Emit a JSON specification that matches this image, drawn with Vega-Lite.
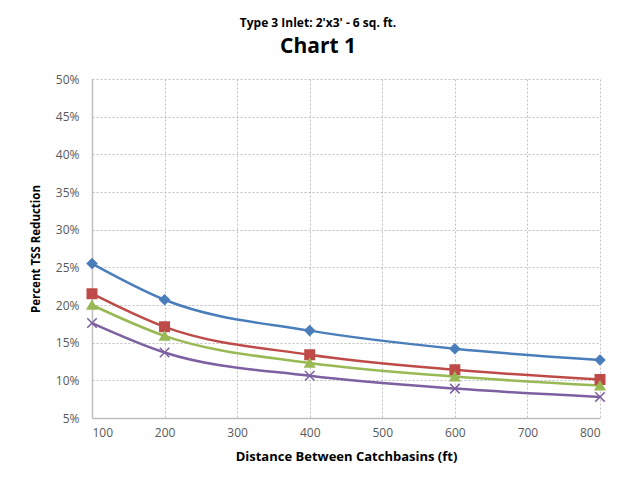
{
  "$schema": "https://vega.github.io/schema/vega-lite/v6.json",
  "width": 508,
  "height": 339,
  "autosize": {"type": "none"},
  "padding": {"left": 92, "top": 79, "right": 22, "bottom": 65},
  "background": "white",
  "config": {
    "font": "Open Sans",
    "view": {"stroke": null},
    "axis": {
      "labelFont": "Open Sans",
      "titleFont": "Open Sans",
      "labelColor": "#595959",
      "labelFontSize": 12,
      "titleFontSize": 12,
      "titleFontWeight": "bold",
      "titleColor": "#000000",
      "domainColor": "#BFBFBF",
      "domainWidth": 1.5,
      "ticks": false,
      "gridColor": "#BFBFBF",
      "gridDash": [2, 2],
      "gridWidth": 1
    }
  },
  "title": {
    "text": "Type 3 Inlet: 2'x3' - 6 sq. ft.",
    "subtitle": "Chart 1",
    "font": "Open Sans",
    "fontSize": 12,
    "fontWeight": "bold",
    "color": "#000000",
    "subtitleFont": "Open Sans",
    "subtitleFontSize": 21,
    "subtitleFontWeight": "bold",
    "subtitleColor": "#000000",
    "subtitlePadding": 6,
    "anchor": "middle",
    "dx": -28,
    "offset": 15
  },
  "data": {
    "values": [
      {"distance": 100, "series": "Series 1", "tss": 0.255},
      {"distance": 200, "series": "Series 1", "tss": 0.207},
      {"distance": 400, "series": "Series 1", "tss": 0.166},
      {"distance": 600, "series": "Series 1", "tss": 0.142},
      {"distance": 800, "series": "Series 1", "tss": 0.127},
      {"distance": 100, "series": "Series 2", "tss": 0.215},
      {"distance": 200, "series": "Series 2", "tss": 0.171},
      {"distance": 400, "series": "Series 2", "tss": 0.134},
      {"distance": 600, "series": "Series 2", "tss": 0.114},
      {"distance": 800, "series": "Series 2", "tss": 0.101},
      {"distance": 100, "series": "Series 3", "tss": 0.200},
      {"distance": 200, "series": "Series 3", "tss": 0.159},
      {"distance": 400, "series": "Series 3", "tss": 0.123},
      {"distance": 600, "series": "Series 3", "tss": 0.105},
      {"distance": 800, "series": "Series 3", "tss": 0.093},
      {"distance": 100, "series": "Series 4", "tss": 0.176},
      {"distance": 200, "series": "Series 4", "tss": 0.137},
      {"distance": 400, "series": "Series 4", "tss": 0.106},
      {"distance": 600, "series": "Series 4", "tss": 0.089},
      {"distance": 800, "series": "Series 4", "tss": 0.078}
    ]
  },
  "encoding": {
    "x": {
      "field": "distance",
      "type": "quantitative",
      "scale": {"domain": [100, 800], "nice": false, "zero": false},
      "axis": {
        "title": "Distance Between Catchbasins (ft)",
        "titleFontSize": 13,
        "values": [100, 200, 300, 400, 500, 600, 700, 800],
        "labelPadding": 9,
        "titlePadding": 12
      }
    },
    "y": {
      "field": "tss",
      "type": "quantitative",
      "scale": {"domain": [0.05, 0.5], "nice": false, "zero": false},
      "axis": {
        "title": "Percent TSS Reduction",
        "titleFontSize": 11.5,
        "format": ".0%",
        "values": [0.05, 0.1, 0.15, 0.2, 0.25, 0.3, 0.35, 0.4, 0.45, 0.5],
        "labelPadding": 13,
        "titlePadding": 14
      }
    }
  },
  "layer": [
    {
      "mark": {"type": "line", "interpolate": "monotone", "strokeWidth": 2.5},
      "encoding": {
        "color": {
          "field": "series",
          "type": "nominal",
          "scale": {
            "domain": ["Series 1", "Series 2", "Series 3", "Series 4"],
            "range": ["#4A7EBB", "#BE4B48", "#98B954", "#7D60A0"]
          },
          "legend": null
        }
      }
    },
    {
      "mark": {"type": "point", "filled": true, "opacity": 1, "strokeWidth": 1.5, "size": 90},
      "encoding": {
        "color": {
          "field": "series",
          "type": "nominal",
          "scale": {
            "domain": ["Series 1", "Series 2", "Series 3", "Series 4"],
            "range": ["#4A7EBB", "#BE4B48", "#98B954", "#7D60A0"]
          },
          "legend": null
        },
        "stroke": {
          "field": "series",
          "type": "nominal",
          "scale": {
            "domain": ["Series 1", "Series 2", "Series 3", "Series 4"],
            "range": ["#4A7EBB", "#BE4B48", "#98B954", "#7D60A0"]
          },
          "legend": null
        },
        "shape": {
          "field": "series",
          "type": "nominal",
          "scale": {
            "domain": ["Series 1", "Series 2", "Series 3", "Series 4"],
            "range": ["diamond", "square", "triangle-up", "M-1,-1L1,1M1,-1L-1,1"]
          },
          "legend": null
        }
      }
    }
  ]
}
